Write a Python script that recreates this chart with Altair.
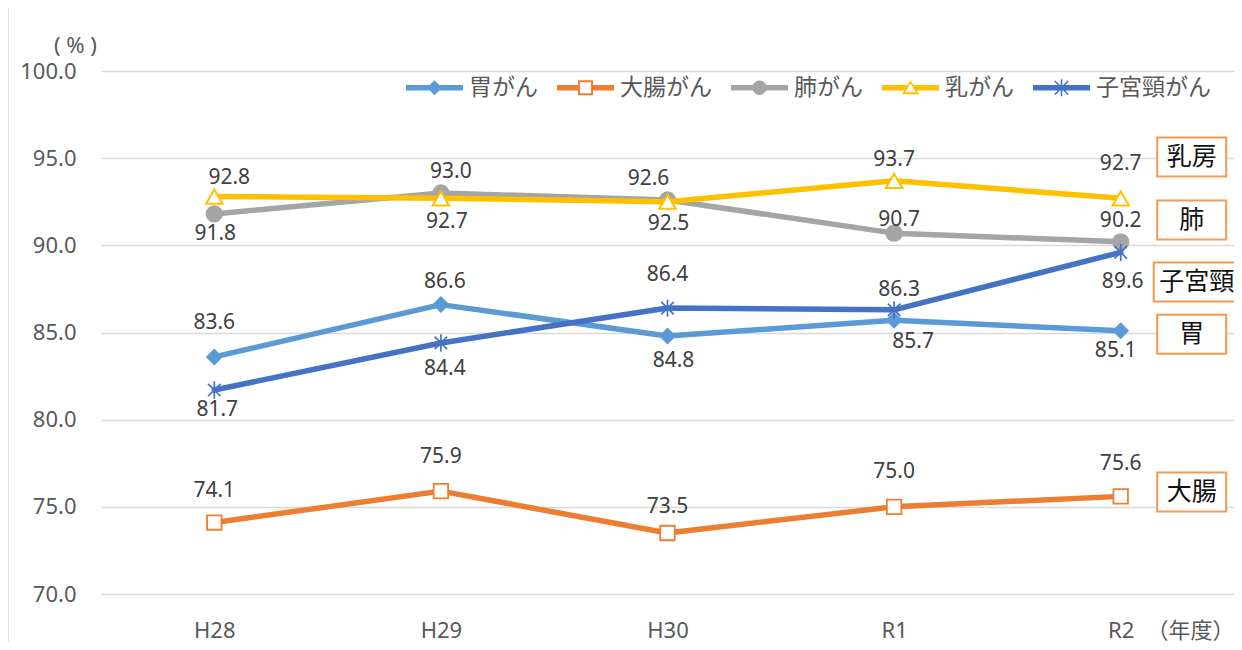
import math
import altair as alt
import pandas as pd

# ---------------- data ----------------
years = ["H28", "H29", "H30", "R1", "R2"]
series = ["胃がん", "大腸がん", "肺がん", "乳がん", "子宮頸がん"]
stomach = [83.6, 86.6, 84.8, 85.7, 85.1]
colorectal = [74.1, 75.9, 73.5, 75.0, 75.6]
lung = [91.8, 93.0, 92.6, 90.7, 90.2]
breast = [92.8, 92.7, 92.5, 93.7, 92.7]
cervical = [81.7, 84.4, 86.4, 86.3, 89.6]
colors = ["#5B9BD5", "#ED7D31", "#A5A5A5", "#FFC000", "#4472C4"]

# data-label nudges (pixels), one per point, in series order
label_dy = [
    [-34, -23, 25, 22, 20],
    [-32, -34, -26, -35, -32],
    [20, -21, -21, -13, -21],
    [-19, 24, 22, -21, -34],
    [20, 26, -33, -20, 30],
]
label_dx = [
    [0, 4, 6, 19, -5],
    [0, 0, 0, 0, 0],
    [1, 10, -19, 5, 0],
    [15, 6, 1, 0, 0],
    [3, 4, 0, 5, 2],
]

# boxed annotations at the right edge
box_labels = ["乳房", "肺", "子宮頸", "胃", "大腸"]
box_values = [95.07, 91.45, 87.9, 84.9, 75.85]

values = [stomach, colorectal, lung, breast, cervical]
rows = []
for si, s in enumerate(series):
    for yi, yr in enumerate(years):
        rows.append({
            "year": yr, "series": s, "value": values[si][yi],
            "label": f"{values[si][yi]:.1f}",
            "ldy": label_dy[si][yi], "ldx": label_dx[si][yi],
        })
df = pd.DataFrame(rows)

box_df = pd.DataFrame({"text": box_labels, "value": box_values,
                       "year": ["R2"] * len(box_labels)})

JP = "Noto Sans CJK JP"
NUM = "Noto Sans"
GRAY_TXT = "#595959"
W, H = 1133, 523

x_enc = alt.X("year:N", sort=years,
              scale=alt.Scale(domain=years, type="point", padding=0.5),
              axis=alt.Axis(title="（年度）", labelAngle=0, labelFont=NUM,
                            labelFontSize=22, labelColor=GRAY_TXT,
                            labelBaseline="middle", labelPadding=36,
                            ticks=False, tickSize=0, domain=False, grid=False,
                            titleFont=JP, titleFontSize=22, titleColor=GRAY_TXT,
                            titleFontWeight="normal", titleX=1089, titleY=36,
                            titleAlign="center", titleBaseline="middle"))
y_scale = alt.Scale(domain=[70, 100], nice=False, zero=False)
y_enc = alt.Y("value:Q", scale=y_scale,
              axis=alt.Axis(title="( % )", values=[70, 75, 80, 85, 90, 95, 100],
                            format=".1f", labelFont=NUM, labelFontSize=22,
                            labelColor=GRAY_TXT, labelPadding=25, ticks=False,
                            tickSize=0, domain=False, grid=True,
                            gridColor="#D9D9D9", gridWidth=1.5,
                            titleFont=NUM, titleFontSize=22, titleColor=GRAY_TXT,
                            titleFontWeight="normal", titleAngle=0,
                            titleX=-26, titleY=-26, titleAlign="center",
                            titleBaseline="middle"))

base = alt.Chart(df)

asterisk = "M0,-1L0,1M-0.72,-0.72L0.72,0.72M-0.72,0.72L0.72,-0.72"
marker_defs = [
    dict(shape="diamond", filled=True, fill=colors[0], stroke=colors[0], strokeWidth=0, size=290),
    dict(shape="square", filled=True, fill="white", stroke=colors[1], strokeWidth=1.8, size=210),
    dict(shape="circle", filled=True, fill=colors[2], stroke=colors[2], strokeWidth=0, size=300),
    dict(shape="triangle-up", filled=True, fill="white", stroke=colors[3], strokeWidth=2, size=270),
    dict(shape=asterisk, filled=False, stroke=colors[4], strokeWidth=1.7, size=300),
]
series_layers = []
for s, c, md in zip(series, colors, marker_defs):
    sub = base.transform_filter(alt.datum.series == s)
    series_layers.append(
        sub.mark_line(color=c, strokeWidth=5.5, strokeCap="round", strokeJoin="round")
        .encode(x=x_enc, y=y_enc))
    series_layers.append(sub.mark_point(opacity=1, **md).encode(x=x_enc, y=y_enc))

labels = base.mark_text(font=NUM, fontSize=21, color="#404040", baseline="middle",
                        dy=alt.ExprRef("datum.ldy"), dx=alt.ExprRef("datum.ldx")).encode(
    x=x_enc, y=y_enc, text="label:N",
)


def box_path(w, h):
    r = h / w
    return f"M-1,{-r:.4f}L1,{-r:.4f}L1,{r:.4f}L-1,{r:.4f}Z"


box_stroke = "#F39A50"
normal_boxes = alt.Chart(box_df).transform_filter(alt.datum.text != "子宮頸").mark_point(
    shape=box_path(69, 39), size=69 * 69, filled=True, fill="white",
    stroke=box_stroke, strokeWidth=2, opacity=1, xOffset=71).encode(x=x_enc, y=y_enc)
wide_box = alt.Chart(box_df).transform_filter(alt.datum.text == "子宮頸").mark_point(
    shape=box_path(92, 39), size=92 * 92, filled=True, fill="white",
    stroke=box_stroke, strokeWidth=2, opacity=1, xOffset=79).encode(x=x_enc, y=y_enc)
box_text = alt.Chart(box_df).transform_filter(alt.datum.text != "子宮頸").mark_text(
    font=JP, fontSize=25, color="#111111", baseline="middle", dx=71).encode(
    x=x_enc, y=y_enc, text="text:N")
wide_text = alt.Chart(box_df).transform_filter(alt.datum.text == "子宮頸").mark_text(
    font=JP, fontSize=25, color="#111111", baseline="middle", dx=76).encode(
    x=x_enc, y=y_enc, text="text:N")


# ---- legend symbols: line + marker drawn as filled outlines ----
U = 28.5  # px per path unit (line of 57 px)


def pt(x, y):
    return f"{x / U:.4f},{y / U:.4f}"


def poly(points):
    return "M" + "L".join(pt(x, y) for x, y in points) + "Z"


def rect(x0, x1, hw):
    return poly([(x0, -hw), (x1, -hw), (x1, hw), (x0, hw)])


def bar(theta, L, w):
    c, s = math.cos(theta), math.sin(theta)
    d, n = (c, s), (-s, c)
    return poly([(-L * d[0] - w * n[0], -L * d[1] - w * n[1]),
                 (L * d[0] - w * n[0], L * d[1] - w * n[1]),
                 (L * d[0] + w * n[0], L * d[1] + w * n[1]),
                 (-L * d[0] + w * n[0], -L * d[1] + w * n[1])])


LW = 2.7
sym_diamond = rect(-U, U, LW) + poly([(0, -7.5), (7.5, 0), (0, 7.5), (-7.5, 0)])
so, si_ = 7.5, 5.6
sym_square = (rect(-U, -so, LW) + rect(so, U, LW)
              + poly([(-so, -so), (so, -so), (so, so), (-so, so)])
              + poly([(-si_, -si_), (-si_, si_), (si_, si_), (si_, -si_)]))
circ = [(7.2 * math.cos(2 * math.pi * k / 24), 7.2 * math.sin(2 * math.pi * k / 24)) for k in range(24)]
sym_circle = rect(-U, -5, LW) + rect(5, U, LW) + poly(circ)
sym_triangle = (rect(-U, -3.6, LW) + rect(3.6, U, LW)
                + poly([(0, -7.5), (8.5, 6.5), (-8.5, 6.5)])
                + poly([(0, -4.3), (-5.6, 4.6), (5.6, 4.6)]))
sym_star = (rect(-U, U, LW) + bar(math.pi / 2, 8.5, 0.8)
            + bar(math.pi / 4, 9.5, 0.8) + bar(-math.pi / 4, 9.5, 0.8))
legend_paths = [sym_diamond, sym_square, sym_circle, sym_triangle, sym_star]

leg = alt.Legend(title=None, orient="none", legendX=305, legendY=-12,
                 direction="horizontal", symbolSize=57 * 57, symbolStrokeWidth=0,
                 symbolOpacity=1, labelFont=JP, labelFontSize=23,
                 labelColor=GRAY_TXT, labelOffset=6, columnPadding=19,
                 padding=0, labelLimit=300)
legend_layer = base.mark_point(filled=True, opacity=0).encode(
    x=x_enc, y=y_enc,
    color=alt.Color("series:N", scale=alt.Scale(domain=series, range=colors), legend=leg),
    shape=alt.Shape("series:N", scale=alt.Scale(domain=series, range=legend_paths), legend=leg),
)

frame = alt.Chart(pd.DataFrame({"a": [0]})).mark_rule(color="#D9D9D9", strokeWidth=1.5).encode(
    x=alt.value(-93), y=alt.value(-71), y2=alt.value(575))

chart = alt.layer(frame, *series_layers, labels, normal_boxes, wide_box, box_text,
                  wide_text, legend_layer).properties(
    width=W, height=H,
    autosize=alt.AutoSizeParams(type="none"),
    padding={"left": 93, "top": 63, "right": 0, "bottom": 48},
    background="white",
).configure_view(stroke=None)

chart.save("out.html", embed_options={"renderer": "svg", "actions": False})
